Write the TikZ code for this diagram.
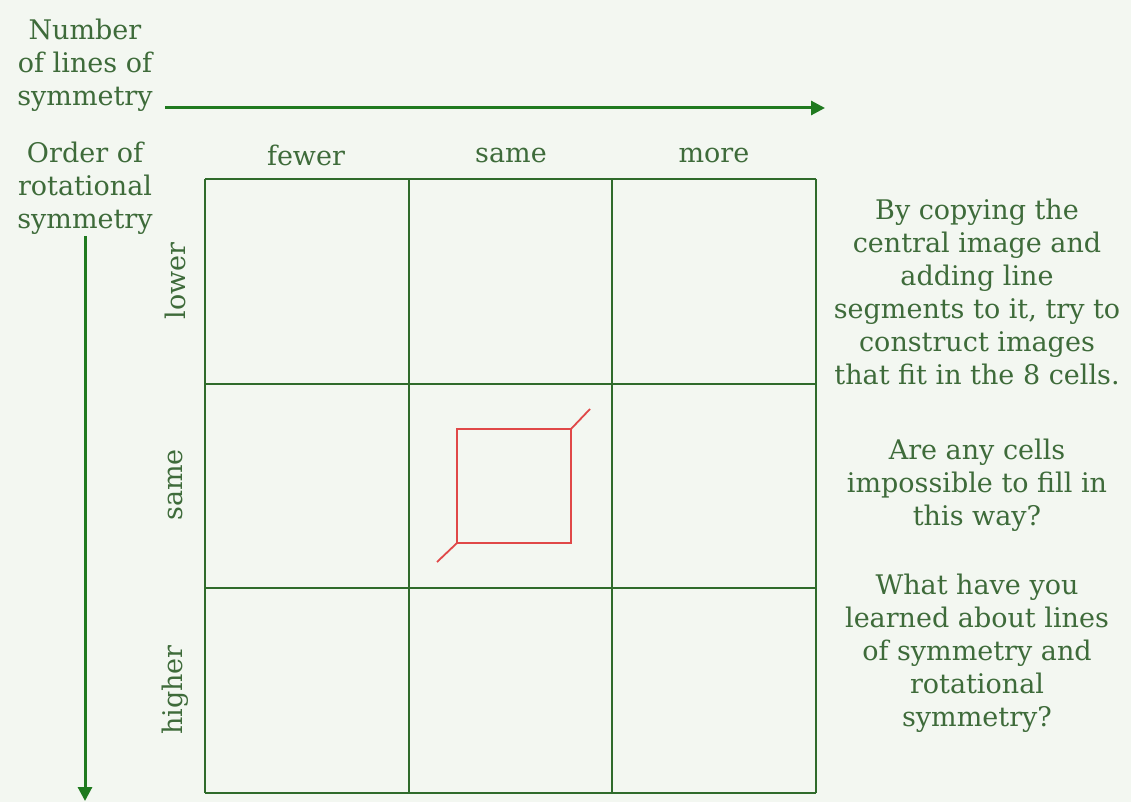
\documentclass[tikz,border=0pt]{standalone}
\usepackage{fontspec}
\setmainfont{DejaVu Serif}
\usetikzlibrary{arrows.meta, positioning}
\definecolor{PaleBg}{HTML}{F3F7F1}
\definecolor{TextGreen}{HTML}{3E6B3A}
\definecolor{GridGreen}{HTML}{2F6B2B}
\definecolor{ArrowGreen}{HTML}{1F7A1F}
\definecolor{ShapeRed}{HTML}{E04848}

\begin{document}
\begin{tikzpicture}[x=1pt, y=-1pt, every node/.style={text=TextGreen, inner sep=0pt, font=\fontsize{27}{33}\selectfont, align=center}]
        \useasboundingbox[fill=PaleBg] (0,0) rectangle (1131,802);

        % Axis titles
        \node (lines) at (85,65) {Number\\of lines of\\symmetry};
        \node (order) at (85,188) {Order of\\rotational\\symmetry};

        % Axis arrows
        \coordinate (xstart) at (165,108);
        \coordinate (xend) at (825,108);
        \coordinate (ystart) at (85,236);
        \coordinate (yend) at (85,801);
        \draw[-{Triangle[length=14pt, width=14pt]}, line width=3pt, ArrowGreen] (xstart) -- (xend);
        \draw[-{Triangle[length=14pt, width=14pt]}, line width=3pt, ArrowGreen] (ystart) -- (yend);

        % Column and row headings
        \node (fewer) at (306,155) {fewer};
        \node (samecol) at (511,155) {same};
        \node (more) at (714,155) {more};
        \node[rotate=90] (lower) at (175,281) {lower};
        \node[rotate=90] (samerow) at (175,485) {same};
        \node[rotate=90] (higher) at (175,690) {higher};

        % Grid of cells
        \foreach \i in {0,1,2,3} {
            \draw[GridGreen, line width=2pt] ({205+203.7*\i},179) -- ({205+203.7*\i},793);
            \draw[GridGreen, line width=2pt] (205,{179+204.7*\i}) -- (816,{179+204.7*\i});
        }

        % Central image
        \draw[ShapeRed, line width=1.8pt] (457,429) rectangle (571,543);
        \draw[ShapeRed, line width=1.8pt] (571,429) -- (590,409);
        \draw[ShapeRed, line width=1.8pt] (457,543) -- (437,562);

        % Questions
        \node (task) at (977,292) {By copying the\\central image and\\adding line\\segments to it, try to\\construct images\\that fit in the 8 cells.};
        \node (impossible) at (977,485) {Are any cells\\impossible to fill in\\this way?};
        \node (learned) at (977,653) {What have you\\learned about lines\\of symmetry and\\rotational\\symmetry?};
\end{tikzpicture}
\end{document}
